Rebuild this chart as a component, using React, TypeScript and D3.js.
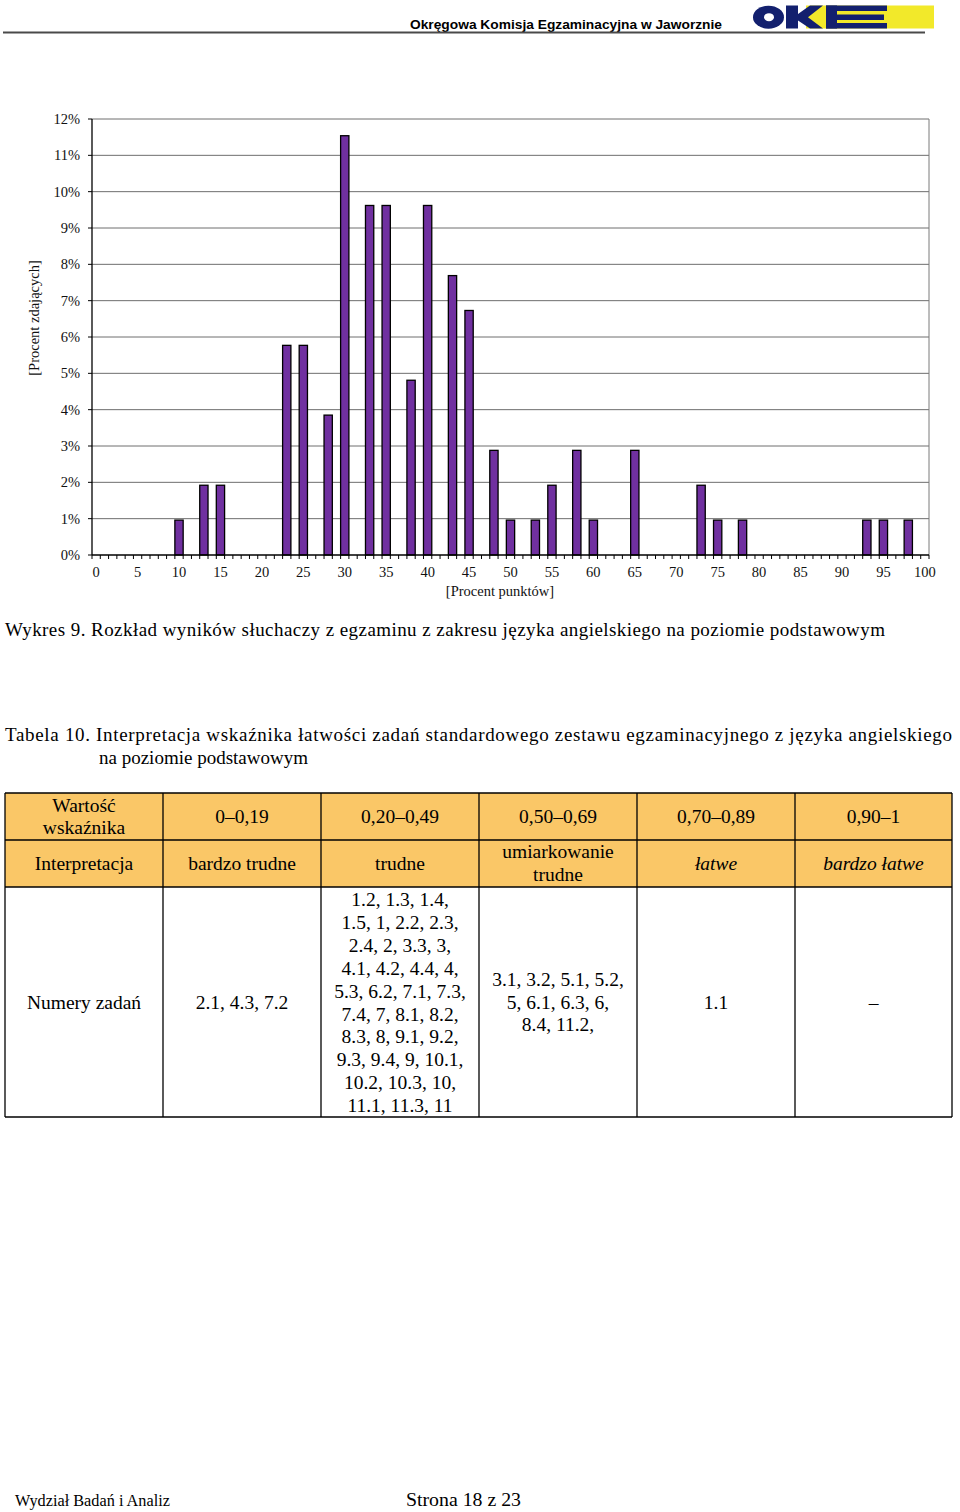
import React from "react";
import * as d3 from "d3";

// ---------- DATA ----------
const scoreCategories: number[] = d3.range(0, 101); // category axis 0..100 [%]
const barScores = [10, 13, 15, 23, 25, 28, 30, 33, 35, 38, 40, 43, 45, 48, 50, 53, 55, 58, 60, 65, 73, 75, 78, 93, 95, 98];
const barPercents = [0.96, 1.92, 1.92, 5.77, 5.77, 3.85, 11.54, 9.62, 9.62, 4.81, 9.62, 7.69, 6.73, 2.88, 0.96, 0.96, 1.92, 2.88, 0.96, 2.88, 1.92, 0.96, 0.96, 0.96, 0.96, 0.96];
const xTickLabels = ["0", "5", "10", "15", "20", "25", "30", "35", "40", "45", "50", "55", "60", "65", "70", "75", "80", "85", "90", "95", "100"];
const yTickValues = [0, 1, 2, 3, 4, 5, 6, 7, 8, 9, 10, 11, 12];
const yTickLabels = ["0%", "1%", "2%", "3%", "4%", "5%", "6%", "7%", "8%", "9%", "10%", "11%", "12%"];

const headerTitle = "Okręgowa Komisja Egzaminacyjna w Jaworznie";
const chartCaption = "Wykres 9. Rozkład wyników słuchaczy z egzaminu z zakresu języka angielskiego na poziomie podstawowym";
const tableCaption1 = "Tabela 10. Interpretacja wskaźnika łatwości zadań standardowego zestawu egzaminacyjnego z języka angielskiego";
const tableCaption2 = "na poziomie podstawowym";

const tableRangeLabel = ["Wartość", "wskaźnika"];
const tableRanges = ["0–0,19", "0,20–0,49", "0,50–0,69", "0,70–0,89", "0,90–1"];
const tableInterpLabel = "Interpretacja";
const tableInterp = [["bardzo trudne"], ["trudne"], ["umiarkowanie", "trudne"], ["łatwe"], ["bardzo łatwe"]];
const tableInterpItalic = [false, false, false, true, true];
const tableTasksLabel = "Numery zadań";
const tableTasks = [
  ["2.1, 4.3, 7.2"],
  ["1.2, 1.3, 1.4,", "1.5, 1, 2.2, 2.3,", "2.4, 2, 3.3, 3,", "4.1, 4.2, 4.4, 4,", "5.3, 6.2, 7.1, 7.3,", "7.4, 7, 8.1, 8.2,", "8.3, 8, 9.1, 9.2,", "9.3, 9.4, 9, 10.1,", "10.2, 10.3, 10,", "11.1, 11.3, 11"],
  ["3.1, 3.2, 5.1, 5.2,", "5, 6.1, 6.3, 6,", "8.4, 11.2,"],
  ["1.1"],
  ["–"],
];

const footerLeft = "Wydział Badań i Analiz";
const footerCenter = "Strona 18 z 23";

// ---------- LAYOUT ----------
const W = 960;
const H = 1512;
const SERIF = '"Liberation Serif", "Times New Roman", serif';
const SANS = '"Liberation Sans", Arial, sans-serif';

const plot = { left: 92, right: 929, top: 119, bottom: 555 };
const BAR_FILL = "#7030A0";
const TABLE_FILL = "#FAC767";

export default function App() {
  const x = d3
    .scaleBand<number>()
    .domain(scoreCategories)
    .range([plot.left, plot.right])
    .padding(0);
  const y = d3.scaleLinear().domain([0, 12]).range([plot.bottom, plot.top]);
  const bw = x.bandwidth();

  const tickBoundaries = scoreCategories.map((c) => x(c) as number).concat([plot.right]);

  // table geometry
  const colX = [5, 163, 321, 479, 637, 795, 952];
  const rowY = [793, 840, 887, 1117];
  const colCenter = (i: number) => (colX[i] + colX[i + 1]) / 2;
  const tableFont = 19.5;

  return (
    <svg
      width={W}
      height={H}
      viewBox={`0 0 ${W} ${H}`}
      style={{ position: "absolute", left: 0, top: 0, background: "#fff" }}
    >
      <rect x={0} y={0} width={W} height={H} fill="#fff" />

      {/* ---------- page header ---------- */}
      <text
        x={410}
        y={28.5}
        fontFamily={SANS}
        fontWeight="bold"
        fontSize={13.5}
        textLength={312}
        lengthAdjust="spacingAndGlyphs"
        fill="#000"
      >
        {headerTitle}
      </text>
      <line x1={3} x2={925} y1={32.5} y2={32.5} stroke="#4a4a4a" strokeWidth={2} />
      {/* OKE logo */}
      <g>
        <rect x={806} y={5.5} width={128} height={23} fill="#F2E92A" />
        <ellipse cx={768.5} cy={17.2} rx={15.5} ry={11.5} fill="#13206E" />
        <ellipse cx={769} cy={17.2} rx={5} ry={4} fill="#fff" />
        <rect x={786} y={5.5} width={12} height={23} fill="#13206E" />
        <polygon points="798,14 810,5.5 823,5.5 808,17.2 823,28.5 810,28.5 798,20.5" fill="#13206E" />
        <rect x={826} y={5.5} width={11} height={23} fill="#13206E" />
        <rect x={826} y={5.5} width={61} height={5.5} fill="#13206E" />
        <rect x={826} y={14.5} width={58} height={5.5} fill="#13206E" />
        <rect x={826} y={23} width={61} height={5.5} fill="#13206E" />
      </g>

      {/* ---------- chart ---------- */}
      {/* gridlines */}
      {yTickValues.slice(1).map((v) => (
        <line
          key={"g" + v}
          x1={plot.left}
          x2={plot.right}
          y1={y(v)}
          y2={y(v)}
          stroke="#6e6e6e"
          strokeWidth={1}
        />
      ))}
      <line x1={plot.right} x2={plot.right} y1={plot.top} y2={plot.bottom} stroke="#7a7a7a" strokeWidth={1} />

      {/* bars */}
      {barScores.map((s, i) => (
        <rect
          key={"b" + s}
          x={x(s) as number}
          y={y(barPercents[i])}
          width={bw}
          height={plot.bottom - y(barPercents[i])}
          fill={BAR_FILL}
          stroke="#000"
          strokeWidth={1.3}
        />
      ))}

      {/* y axis */}
      <line x1={plot.left} x2={plot.left} y1={plot.top} y2={plot.bottom} stroke="#000" strokeWidth={1.3} />
      {yTickValues.map((v, i) => (
        <g key={"yt" + v}>
          <line x1={plot.left - 4} x2={plot.left} y1={y(v)} y2={y(v)} stroke="#000" strokeWidth={1} />
          <text
            x={80}
            y={y(v)}
            dy="0.35em"
            textAnchor="end"
            fontFamily={SERIF}
            fontSize={14.5}
            fill="#111"
          >
            {yTickLabels[i]}
          </text>
        </g>
      ))}

      {/* x axis */}
      <line x1={plot.left} x2={plot.right} y1={plot.bottom} y2={plot.bottom} stroke="#000" strokeWidth={1.3} />
      {tickBoundaries.map((tx, i) => (
        <line key={"xt" + i} x1={tx} x2={tx} y1={plot.bottom} y2={plot.bottom + 4} stroke="#000" strokeWidth={1} />
      ))}
      {xTickLabels.map((lab) => (
        <text
          key={"xl" + lab}
          x={(x(+lab) as number) + bw / 2}
          y={577}
          textAnchor="middle"
          fontFamily={SERIF}
          fontSize={14.5}
          fill="#111"
        >
          {lab}
        </text>
      ))}

      {/* axis titles */}
      <text x={500} y={596} textAnchor="middle" fontFamily={SERIF} fontSize={14.5} fill="#111">
        [Procent punktów]
      </text>
      <text
        transform="translate(39,318) rotate(-90)"
        textAnchor="middle"
        fontFamily={SERIF}
        fontSize={14.5}
        fill="#111"
      >
        [Procent zdających]
      </text>

      {/* ---------- captions ---------- */}
      <text x={5} y={636} fontFamily={SERIF} fontSize={19} textLength={880} lengthAdjust="spacing" fill="#000">
        {chartCaption}
      </text>
      <text x={5} y={741} fontFamily={SERIF} fontSize={19} textLength={947} lengthAdjust="spacing" fill="#000">
        {tableCaption1}
      </text>
      <text x={99} y={764} fontFamily={SERIF} fontSize={19} fill="#000">
        {tableCaption2}
      </text>

      {/* ---------- table ---------- */}
      <rect x={colX[0]} y={rowY[0]} width={colX[6] - colX[0]} height={rowY[2] - rowY[0]} fill={TABLE_FILL} />
      {rowY.map((ry, i) => (
        <line key={"tr" + i} x1={colX[0]} x2={colX[6]} y1={ry} y2={ry} stroke="#000" strokeWidth={1.3} />
      ))}
      {colX.map((cx, i) => (
        <line key={"tc" + i} x1={cx} x2={cx} y1={rowY[0]} y2={rowY[3]} stroke="#000" strokeWidth={1.3} />
      ))}

      <g fontFamily={SERIF} fontSize={tableFont} fill="#000" textAnchor="middle">
        {tableRangeLabel.map((t, i) => (
          <text key={"rl" + i} x={colCenter(0)} y={811.5 + i * 22.6}>
            {t}
          </text>
        ))}
        {tableRanges.map((t, i) => (
          <text key={"r" + i} x={colCenter(i + 1)} y={823}>
            {t}
          </text>
        ))}
        <text x={colCenter(0)} y={870}>
          {tableInterpLabel}
        </text>
        {tableInterp.map((lines, i) =>
          lines.map((t, j) => (
            <text
              key={"in" + i + "_" + j}
              x={colCenter(i + 1)}
              y={lines.length === 1 ? 870 : 858 + j * 22.6}
              fontStyle={tableInterpItalic[i] ? "italic" : "normal"}
            >
              {t}
            </text>
          ))
        )}
        <text x={colCenter(0)} y={1008.5}>
          {tableTasksLabel}
        </text>
        {tableTasks.map((lines, i) => {
          const mid = 1008.5;
          const lh = 22.9;
          const start = mid - ((lines.length - 1) * lh) / 2;
          const y0 = lines.length === 10 ? 906 : start;
          return lines.map((t, j) => (
            <text key={"tk" + i + "_" + j} x={colCenter(i + 1)} y={y0 + j * lh}>
              {t}
            </text>
          ));
        })}
      </g>

      {/* ---------- footer ---------- */}
      <text x={15} y={1506} fontFamily={SERIF} fontSize={16.5} textLength={155} lengthAdjust="spacingAndGlyphs" fill="#000">
        {footerLeft}
      </text>
      <text x={406} y={1506} fontFamily={SERIF} fontSize={19} textLength={115} lengthAdjust="spacingAndGlyphs" fill="#000">
        {footerCenter}
      </text>
    </svg>
  );
}
